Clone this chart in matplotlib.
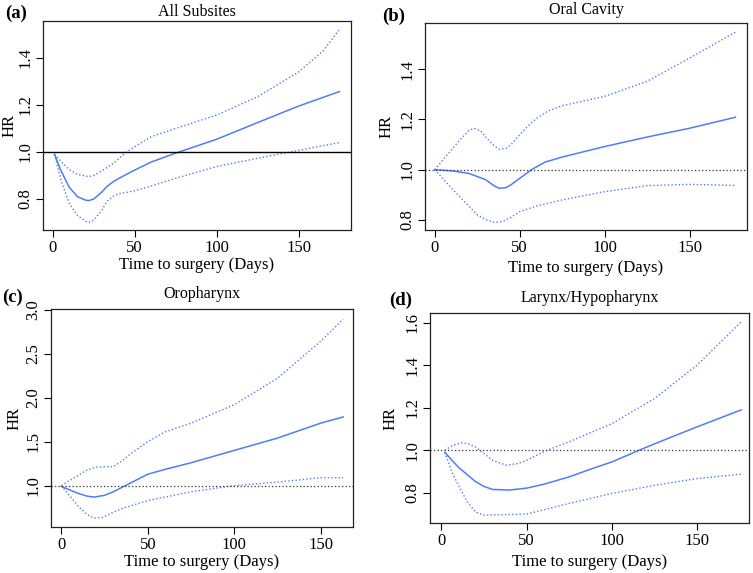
"""Spline HR curves vs time to surgery, four head and neck subsites."""

import matplotlib
matplotlib.use("Agg")
import matplotlib.pyplot as plt

# ---- data ------------------------------------------------------------------
a_days = [1, 5, 10, 15, 20, 22, 25, 30, 33, 37, 41, 45, 50, 60, 75, 100, 125,
          150, 175]
a_hr = [0.99, 0.92, 0.85, 0.81, 0.795, 0.793, 0.80, 0.83, 0.853, 0.874, 0.89,
        0.905, 0.923, 0.957, 0.995, 1.054, 1.125, 1.195, 1.257]
a_up_days = [1, 5, 10, 15, 22, 25, 30, 37, 45, 50, 60, 75, 100, 125, 150, 165,
             175]
a_up = [0.99, 0.96, 0.925, 0.905, 0.895, 0.90, 0.92, 0.952, 1.0, 1.023, 1.065,
        1.10, 1.157, 1.235, 1.34, 1.43, 1.522]
a_lo_days = [1, 5, 10, 15, 20, 22, 25, 30, 33, 37, 40, 45, 50, 60, 75, 100, 125,
             145, 175]
a_lo = [0.99, 0.88, 0.78, 0.73, 0.705, 0.70, 0.71, 0.753, 0.79, 0.812, 0.822,
        0.828, 0.835, 0.855, 0.888, 0.938, 0.973, 1.0, 1.04]

b_days = [0, 10, 20, 30, 35, 38, 42, 45, 50, 57, 65, 75, 100, 125, 150, 177]
b_hr = [1.0, 0.995, 0.985, 0.96, 0.935, 0.925, 0.928, 0.94, 0.965, 1.0, 1.03,
        1.05, 1.092, 1.13, 1.165, 1.209]
b_up_days = [0, 5, 10, 15, 20, 23, 27, 30, 35, 38, 42, 45, 50, 55, 60, 67, 75,
             100, 125, 150, 177]
b_up = [1.0, 1.04, 1.08, 1.12, 1.155, 1.165, 1.155, 1.13, 1.095, 1.081, 1.085,
        1.10, 1.139, 1.175, 1.205, 1.235, 1.255, 1.292, 1.352, 1.445, 1.549]
b_lo_days = [0, 8, 15, 25, 30, 35, 40, 45, 50, 60, 75, 100, 125, 150, 177]
b_lo = [1.0, 0.94, 0.89, 0.82, 0.80, 0.789, 0.793, 0.81, 0.832, 0.855, 0.879,
        0.912, 0.936, 0.941, 0.937]

c_days = [0, 10, 15, 19, 25, 30, 37, 44, 50, 60, 75, 100, 125, 150, 163]
c_hr = [0.99, 0.91, 0.88, 0.87, 0.89, 0.93, 1.0, 1.07, 1.13, 1.185, 1.26,
        1.40, 1.54, 1.71, 1.78]
c_up_days = [0, 10, 15, 20, 25, 30, 35, 40, 50, 60, 75, 100, 125, 150, 163]
c_up = [1.0, 1.12, 1.18, 1.21, 1.215, 1.215, 1.28, 1.36, 1.50, 1.61, 1.71,
        1.92, 2.22, 2.64, 2.89]
c_lo_days = [0, 10, 15, 19, 24, 28, 35, 50, 75, 100, 125, 150, 163]
c_lo = [1.0, 0.76, 0.67, 0.63, 0.64, 0.68, 0.74, 0.83, 0.93, 1.0, 1.04, 1.09,
        1.09]

d_days = [2, 10, 20, 25, 30, 40, 50, 60, 75, 90, 100, 116, 125, 150, 176]
d_hr = [0.99, 0.92, 0.853, 0.83, 0.816, 0.813, 0.822, 0.84, 0.875, 0.918,
        0.945, 1.0, 1.03, 1.11, 1.19]
d_up_days = [2, 7, 12, 16, 20, 25, 30, 38, 45, 50, 62, 75, 100, 125, 150, 176]
d_up = [1.0, 1.025, 1.035, 1.03, 1.016, 0.985, 0.953, 0.93, 0.938, 0.953, 1.0,
        1.04, 1.125, 1.243, 1.4, 1.604]
d_lo_days = [2, 6, 10, 15, 20, 25, 50, 75, 100, 125, 150, 176]
d_lo = [0.99, 0.90, 0.835, 0.76, 0.71, 0.695, 0.70, 0.75, 0.797, 0.835, 0.867,
        0.888]

x_ticks = [0, 50, 100, 150]
a_yticks = [0.8, 1.0, 1.2, 1.4]
b_yticks = [0.8, 1.0, 1.2, 1.4]
c_yticks = [1.0, 1.5, 2.0, 2.5, 3.0]
d_yticks = [0.8, 1.0, 1.2, 1.4, 1.6]

# ---- style --------------------------------------------------------------------
plt.rcParams["font.family"] = ["Liberation Serif", "DejaVu Serif"]
BLUE = "#4f7df5"
FS = 12
W, H = 753, 573


def px_axes(fig, left, top, right, bottom):
    return fig.add_axes([left / W, 1 - bottom / H, (right - left) / W,
                         (bottom - top) / H])


def draw_panel(fig, box, days, hr, up_days, up, lo_days, lo, yticks, xlim,
               ylim, ref_solid, title, letter, title_y, letter_xy, xlab_y,
               ylab_x):
    ax = px_axes(fig, *box)
    ax.plot(days, hr, color=BLUE, lw=1.1)
    ax.plot(up_days, up, color=BLUE, lw=1.0, ls=(0, (1, 1.6)))
    ax.plot(lo_days, lo, color=BLUE, lw=1.0, ls=(0, (1, 1.6)))
    if ref_solid:
        ax.axhline(1.0, color="black", lw=1.0)
    else:
        ax.axhline(1.0, color="#333333", lw=0.9, ls=(0, (1, 1.8)))
    ax.set_xlim(*xlim)
    ax.set_ylim(*ylim)
    ax.set_xticks(x_ticks)
    ax.set_yticks(yticks)
    ax.set_yticklabels([f"{v:.1f}" for v in yticks], rotation=90, va="center")
    ax.tick_params(direction="out", length=5, width=0.8, labelsize=FS, pad=2)
    for s in ax.spines.values():
        s.set_linewidth(0.9)
        s.set_color("#222222")

    cx = (box[0] + box[2]) / 2
    cy = (box[1] + box[3]) / 2
    fig.text(cx / W, 1 - title_y / H, title, ha="center", va="center",
             fontsize=11.5)
    fig.text(letter_xy[0] / W, 1 - letter_xy[1] / H, letter, ha="left",
             va="center", fontsize=13.5, fontweight="bold")
    fig.text(cx / W, 1 - xlab_y / H, "Time to surgery (Days)", ha="center",
             va="center", fontsize=FS)
    fig.text(ylab_x / W, 1 - cy / H, "HR", ha="center", va="center",
             rotation=90, fontsize=FS)
    return ax


fig = plt.figure(figsize=(W / 100, H / 100), dpi=100)

draw_panel(fig, (43, 21, 351, 230), a_days, a_hr, a_up_days, a_up, a_lo_days,
           a_lo, a_yticks, (-6, 182), (0.668, 1.557), True, "All Subsites",
           "(a)", 12, (5, 13), 265, 10)
draw_panel(fig, (425, 23, 747, 230), b_days, b_hr, b_up_days, b_up, b_lo_days,
           b_lo, b_yticks, (-5.7, 183.8), (0.759, 1.585), False,
           "Oral Cavity", "(b)", 10, (382, 16), 268, 387)
draw_panel(fig, (51, 309, 353, 527), c_days, c_hr, c_up_days, c_up, c_lo_days,
           c_lo, c_yticks, (-6, 168.7), (0.53, 3.007), False, "Oropharynx",
           "(c)", 294, (2, 297), 562, 15)
draw_panel(fig, (430, 313, 749, 523), d_days, d_hr, d_up_days, d_up, d_lo_days,
           d_lo, d_yticks, (-6.7, 180.6), (0.658, 1.646), False,
           "Larynx/Hypopharynx", "(d)", 298, (389, 300), 562, 391)

fig.savefig("out.png", dpi=100)
plt.close(fig)
